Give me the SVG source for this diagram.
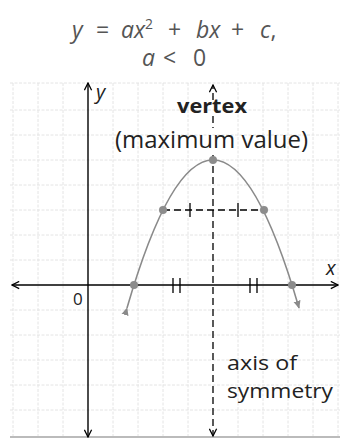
<svg xmlns="http://www.w3.org/2000/svg" width="340" height="442" viewBox="0 0 340 442">
<style>
.grid{stroke:#e4e4e4;stroke-width:1;stroke-dasharray:3 1.5;fill:none}
.axis{stroke:#000;stroke-width:1.4;fill:none}
.dash{stroke:#000;stroke-width:1.3;stroke-dasharray:7 4;fill:none}
.curve{stroke:#8a8a8a;stroke-width:1.6;fill:none}
.tick{stroke:#000;stroke-width:1.3}
.pt{fill:#8c8c8c}
.eq{font-family:"Open Sans","DejaVu Sans",sans-serif;font-size:23px;fill:#555}
.lab{font-family:"Open Sans","DejaVu Sans",sans-serif;fill:#222}
.it{font-style:italic}
</style>
<defs>
<marker id="open" viewBox="0 0 10 10" refX="9" refY="5" markerWidth="9" markerHeight="9" markerUnits="userSpaceOnUse" orient="auto-start-reverse">
<path d="M1,1 L9,5 L1,9" fill="none" stroke="#000" stroke-width="1.4"/>
</marker>
<marker id="tri" viewBox="0 0 10 10" refX="8" refY="5" markerWidth="9" markerHeight="9" markerUnits="userSpaceOnUse" orient="auto">
<path d="M0,1 L9,5 L0,9 Z" fill="#8a8a8a"/>
</marker>
</defs>
<rect x="0" y="0" width="340" height="442" fill="#fff"/>
<g id="grid">
<path class="grid" d="M13,83V437 M38,83V437 M63,83V437 M113,83V437 M138,83V437 M163,83V437 M188,83V437 M238,83V437 M263,83V437 M288,83V437 M313,83V437 M338,83V437"/>
<path class="grid" d="M10,83H340 M10,110H340 M10,135H340 M10,160H340 M10,185H340 M10,210H340 M10,235H340 M10,260H340 M10,310H340 M10,335H340 M10,360H340 M10,385H340 M10,410H340"/>
<line x1="10" y1="437" x2="340" y2="437" stroke="#bbb" stroke-width="2"/>
</g>
<g id="title">
<text class="eq" y="38"><tspan class="it" x="72">y</tspan><tspan x="96">=</tspan><tspan class="it" x="121">ax</tspan><tspan font-size="14" dy="-9">2</tspan><tspan x="168" dy="9">+</tspan><tspan class="it" x="196">bx</tspan><tspan x="231">+</tspan><tspan class="it" x="260">c</tspan><tspan>,</tspan></text>
<text class="eq" y="66"><tspan class="it" x="142">a</tspan><tspan x="163">&lt;</tspan><tspan x="193">0</tspan></text>
</g>
<g id="connectors">
<line id="y-axis" class="axis" x1="88" y1="437" x2="88" y2="83" marker-start="url(#open)" marker-end="url(#open)"/>
<line id="x-axis" class="axis" x1="12" y1="285" x2="338" y2="285" marker-start="url(#open)" marker-end="url(#open)"/>
<line class="dash" x1="213" y1="100" x2="213" y2="85" marker-end="url(#open)"/>
<line class="dash" x1="213" y1="116" x2="213" y2="128"/>
<line class="dash" x1="213" y1="155" x2="213" y2="436" marker-end="url(#open)"/>
<line class="dash" x1="163" y1="210" x2="264" y2="210"/>
<path class="curve" d="M127,308 Q213,12 299,308" marker-start="url(#tri)" marker-end="url(#tri)"/>
<path class="tick" d="M190,203V217 M238,203V217 M173,278V293 M180,278V293 M250,278V293 M257,278V293"/>
</g>
<g id="points">
<circle class="pt" cx="213" cy="160" r="4"/>
<circle class="pt" cx="163" cy="210" r="4"/>
<circle class="pt" cx="264" cy="210" r="4"/>
<circle class="pt" cx="134" cy="285" r="4"/>
<circle class="pt" cx="292" cy="285" r="4"/>
</g>
<g id="labels">
<text class="lab it" x="96" y="99" font-size="20">y</text>
<text class="lab it" x="326" y="275" font-size="20">x</text>
<text class="lab" x="73" y="305" font-size="17">0</text>
<text class="lab" x="177" y="113" font-size="19" font-weight="bold" textLength="70" lengthAdjust="spacingAndGlyphs">vertex</text>
<text class="lab" x="115" y="148" font-size="23" textLength="193" lengthAdjust="spacingAndGlyphs">(maximum value)</text>
<text class="lab" x="227" y="370" font-size="20" textLength="70" lengthAdjust="spacingAndGlyphs">axis of</text>
<text class="lab" x="227" y="398" font-size="20" textLength="106" lengthAdjust="spacingAndGlyphs">symmetry</text>
</g>
</svg>
